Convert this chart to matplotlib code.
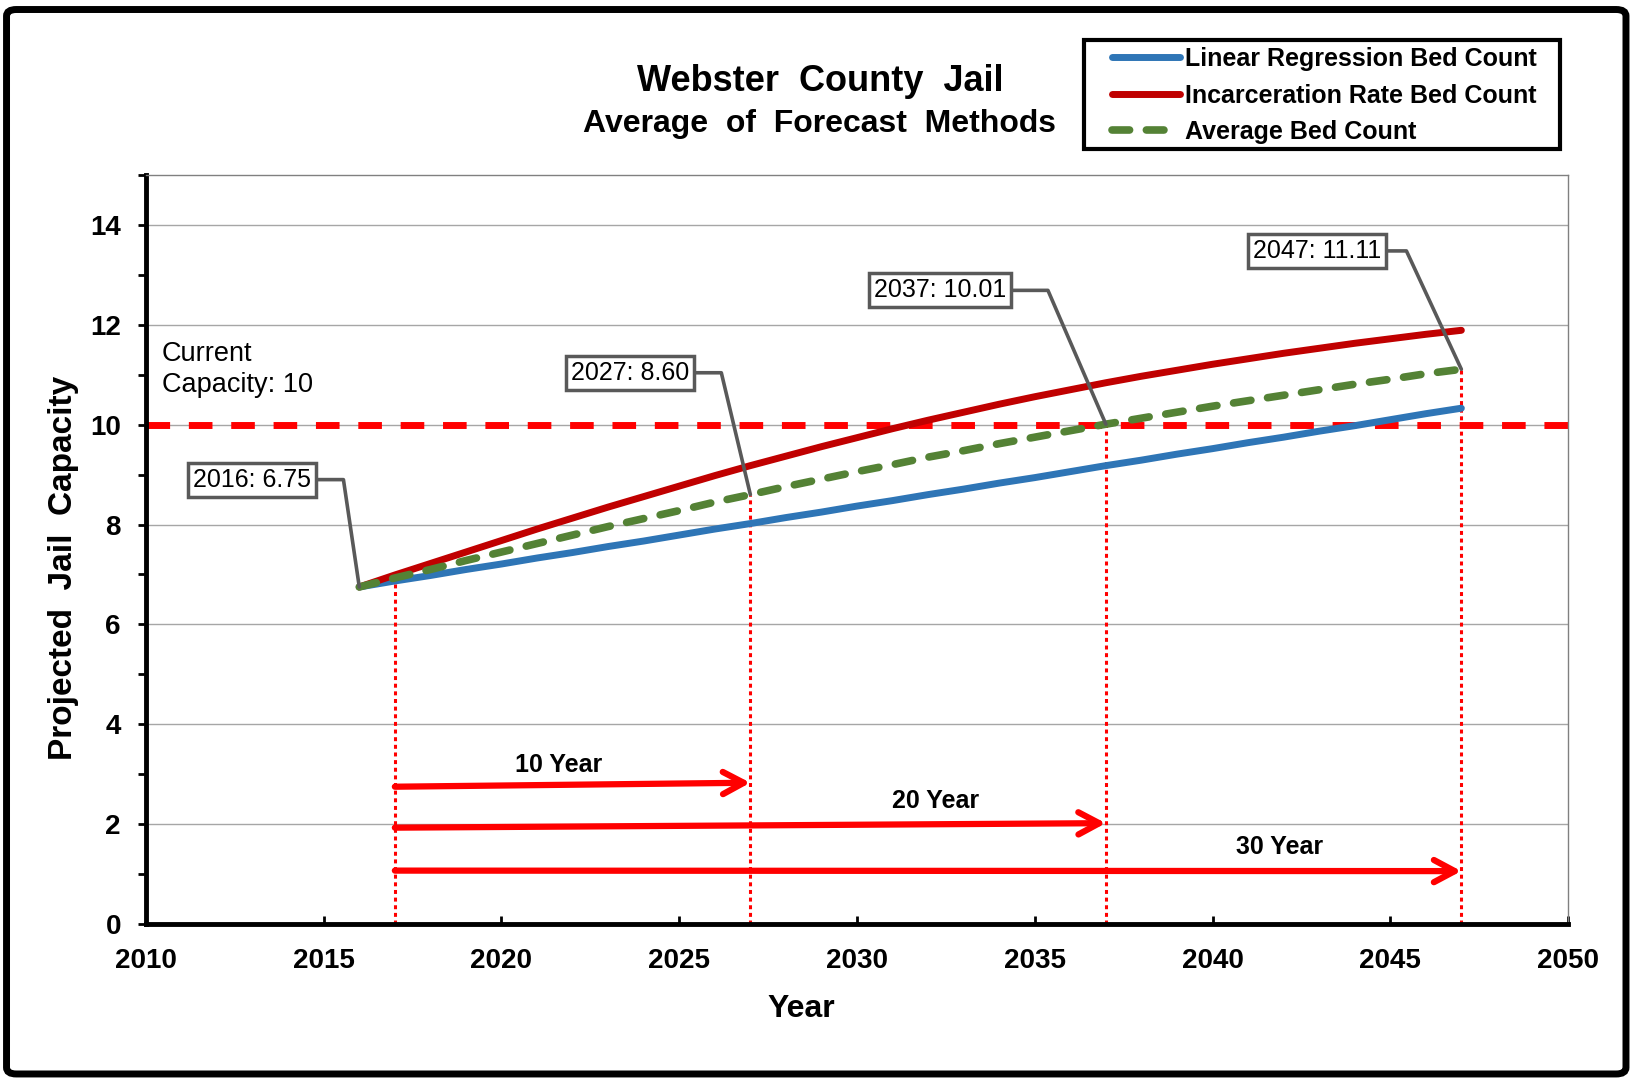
import matplotlib
matplotlib.use("Agg")
import matplotlib.pyplot as plt
from matplotlib.lines import Line2D
from matplotlib.patches import FancyBboxPatch, Rectangle
from matplotlib.ticker import MultipleLocator

plt.rcParams['font.family'] = ['Liberation Sans', 'DejaVu Sans']

# projected beds per year
years = list(range(2016, 2048))
linear_beds = [6.75, 6.87, 6.98, 7.10, 7.21, 7.33, 7.44, 7.56, 7.67, 7.79, 7.91,
               8.02, 8.14, 8.25, 8.37, 8.48, 8.60, 8.71, 8.83, 8.94, 9.06,
               9.18, 9.29, 9.41, 9.52, 9.64, 9.75, 9.87, 9.98, 10.10, 10.22, 10.33]
incarceration_beds = [6.75, 6.99, 7.22, 7.45, 7.68, 7.91, 8.13, 8.35, 8.56, 8.77, 8.98,
                      9.18, 9.37, 9.56, 9.74, 9.92, 10.09, 10.25, 10.41, 10.56, 10.70,
                      10.84, 10.97, 11.09, 11.21, 11.32, 11.43, 11.53, 11.63, 11.72, 11.81, 11.89]
average_beds = [6.75, 6.93, 7.10, 7.28, 7.45, 7.62, 7.79, 7.96, 8.12, 8.28, 8.45,
                8.60, 8.76, 8.91, 9.06, 9.20, 9.35, 9.48, 9.62, 9.75, 9.88,
                10.01, 10.13, 10.25, 10.37, 10.48, 10.59, 10.70, 10.81, 10.91, 11.02, 11.11]
current_capacity = 10

# milestone markers (dotted verticals)
milestone_years = [2017, 2027, 2037, 2047]

# callouts
callout_years = [2016, 2027, 2037, 2047]
callout_values = [6.75, 8.60, 10.01, 11.11]
callout_labels = ['2016: 6.75', '2027: 8.60', '2037: 10.01', '2047: 11.11']
callout_text_x = [2012.99, 2023.62, 2032.34, 2042.94]
callout_text_y = [8.90, 11.04, 12.69, 13.48]
callout_angles = [98.4, 103.4, 113.4, 114.9]

# horizon arrows
horizon_labels = ['10 Year', '20 Year', '30 Year']
horizon_start = 2017
horizon_end = [2027, 2037, 2047]
arrow_y_start = [2.75, 1.93, 1.07]
arrow_y_end = [2.83, 2.02, 1.06]
horizon_label_x = [2021.6, 2032.2, 2041.9]
horizon_label_y = [3.19, 2.46, 1.54]

blue = '#2E75B6'
red = '#C00000'
green = '#548235'
bright_red = '#FF0000'
gray = '#595959'

fig = plt.figure(figsize=(16.33, 10.81), dpi=100)
ax = fig.add_axes([0.0894, 0.1452, 0.8708, 0.6929])

ax.set_xlim(2010, 2050)
ax.set_ylim(0, 15)

ax.yaxis.grid(True, color='#A6A6A6', lw=1)
ax.set_axisbelow(True)

ax.axhline(current_capacity, color=bright_red, lw=5, dashes=(3.4, 2.7),
           dash_capstyle='butt', zorder=2)

marker_tops = [average_beds[years.index(y)] for y in milestone_years]
ax.vlines(milestone_years, 0, marker_tops, colors=bright_red, lw=2.2,
          linestyles=(0, (1.3, 1.2)), zorder=2)

ax.plot(years, linear_beds, color=blue, lw=5, solid_capstyle='round', zorder=3)
ax.plot(years, incarceration_beds, color=red, lw=5, solid_capstyle='round', zorder=3)
ax.plot(years, average_beds, color=green, lw=5.5, dashes=(2.3, 2.2),
        dash_capstyle='round', zorder=4)

# callout boxes with elbow leaders
for yr, val, lab, tx, ty, ang in zip(callout_years, callout_values, callout_labels,
                                     callout_text_x, callout_text_y, callout_angles):
    ax.annotate(lab, xy=(yr, val), xytext=(tx, ty), textcoords='data',
                ha='center', va='center', fontsize=18, zorder=6,
                bbox=dict(boxstyle='square,pad=0.2', fc='white', ec=gray, lw=2.5),
                arrowprops=dict(arrowstyle='-', color=gray, lw=2.6,
                                connectionstyle='angle,angleA=0,angleB=%s,rad=0' % ang,
                                shrinkA=0, shrinkB=0))

ax.text(2010.44, 11.68, 'Current\nCapacity: %d' % current_capacity, ha='left', va='top',
        fontsize=19.5, linespacing=1.25)

# horizon arrows
for end, y0, y1, lab, lx, ly in zip(horizon_end, arrow_y_start, arrow_y_end,
                                    horizon_labels, horizon_label_x, horizon_label_y):
    ax.annotate('', xy=(end, y1), xytext=(horizon_start, y0),
                arrowprops=dict(arrowstyle='->,head_length=0.75,head_width=0.4',
                                color=bright_red, lw=4.5, mutation_scale=20,
                                shrinkA=0, shrinkB=0), zorder=5)
    ax.text(lx, ly, lab, ha='center', va='center', fontsize=18, fontweight='bold',
            family=['Liberation Sans Narrow', 'Liberation Sans', 'DejaVu Sans'])

# axes styling
for side in ['left', 'bottom']:
    ax.spines[side].set_linewidth(3.5)
    ax.spines[side].set_color('black')
for side in ['top', 'right']:
    ax.spines[side].set_linewidth(1)
    ax.spines[side].set_color('#808080')

ax.set_xticks(list(range(2010, 2051, 5)))
ax.set_xticklabels([str(v) for v in range(2010, 2051, 5)], fontweight='bold', fontsize=20)
ax.set_yticks(list(range(0, 15, 2)))
ax.set_yticklabels([str(v) for v in range(0, 15, 2)], fontweight='bold', fontsize=20)
ax.yaxis.set_minor_locator(MultipleLocator(1))
ax.tick_params(axis='x', direction='in', length=6, width=2, pad=17)
ax.tick_params(axis='y', which='both', direction='out', length=6, width=2, pad=12)

ax.set_xlabel('Year', fontsize=23, fontweight='bold')
ax.xaxis.set_label_coords(0.461, -0.093)
ax.set_ylabel('Projected  Jail  Capacity', fontsize=24, fontweight='bold')
ax.yaxis.set_label_coords(-0.047, 0.475)

# title
fig.text(0.502, 0.925, 'Webster  County  Jail', ha='center', va='center',
         fontsize=26, fontweight='bold')
fig.text(0.502, 0.885, 'Average  of  Forecast  Methods', ha='center', va='center',
         fontsize=23, fontweight='bold')

# legend
handles = [Line2D([], [], color=blue, lw=5, solid_capstyle='round'),
           Line2D([], [], color=red, lw=5, solid_capstyle='round'),
           Line2D([], [], color=green, lw=5.5, dashes=(2.3, 2.2), dash_capstyle='round')]
names = ['Linear Regression Bed Count', 'Incarceration Rate Bed Count', 'Average Bed Count']
fig.legend(handles, names, loc='upper left', bbox_to_anchor=(0.681, 0.9565),
           bbox_transform=fig.transFigure, frameon=False, prop=dict(weight='bold', size=18),
           handlelength=2.7, handletextpad=0.2, labelspacing=0.5, borderpad=0,
           borderaxespad=0)
fig.patches.append(Rectangle((0.664, 0.862), 0.291, 0.101, transform=fig.transFigure,
                             fill=False, ec='black', lw=3))

# outer frame
fig.patches.append(FancyBboxPatch((0.004, 0.0065), 0.9917, 0.9847,
                                  boxstyle='round,pad=0,rounding_size=0.006',
                                  transform=fig.transFigure, fill=False,
                                  ec='black', lw=5))

fig.savefig('out.png', dpi=100)
